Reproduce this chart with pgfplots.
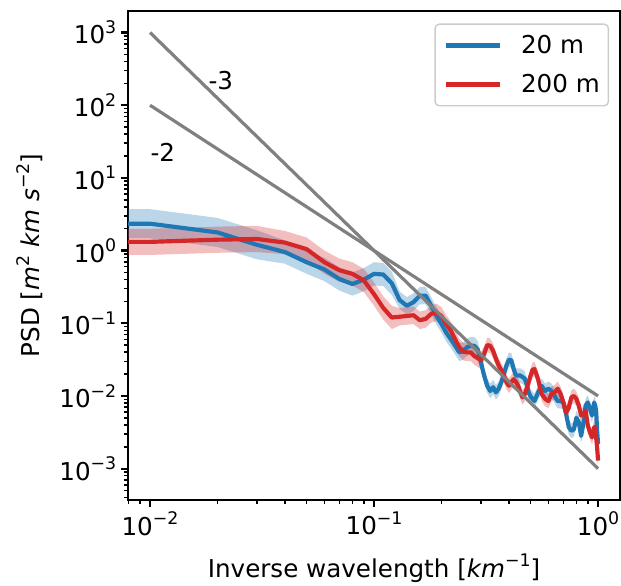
\documentclass[border=0pt]{standalone}
\usepackage{fontspec}
\setmainfont{DejaVu Sans}
\usepackage{pgfplots}
\pgfplotsset{compat=1.18}
\usepgfplotslibrary{fillbetween}
\usepackage{pgfplotstable}
\definecolor{tabblue}{HTML}{1F77B4}
\definecolor{tabred}{HTML}{D62728}
\definecolor{lgray}{HTML}{CCCCCC}
\newcommand\sups[1]{\raisebox{0.42em}{\fontsize{12.5}{13}\selectfont #1}}
\newcommand\fs{\fontsize{17.7}{21}\selectfont}

\pgfplotstableread{
k y lo hi
0.006 2.344 1.479 3.715
0.01 2.344 1.479 3.715
0.02 1.778 1.122 2.818
0.03 1.202 0.7586 1.905
0.04 0.955 0.661 1.380
0.05 0.692 0.479 1.000
0.06 0.550 0.380 0.794
0.07 0.407 0.282 0.589
0.08 0.347 0.240 0.501
0.09 0.398 0.275 0.575
0.10 0.479 0.331 0.692
0.11 0.468 0.324 0.676
0.12 0.355 0.245 0.513
0.13 0.209 0.1585 0.275
0.14 0.174 0.132 0.229
0.15 0.195 0.148 0.257
0.16 0.240 0.182 0.316
0.17 0.240 0.182 0.316
0.18 0.174 0.132 0.229
0.19 0.126 0.0955 0.166
0.20 0.0977 0.0741 0.129
0.21 0.0741 0.0562 0.0977
0.22 0.0603 0.0457 0.0794
0.23 0.0490 0.0372 0.0646
0.24 0.0398 0.0302 0.0525
0.25 0.0417 0.0316 0.0550
0.26 0.0468 0.0355 0.0617
0.27 0.0490 0.0372 0.0646
0.28 0.0490 0.0372 0.0646
0.29 0.0437 0.0331 0.0575
0.30 0.0288 0.0219 0.0380
0.31 0.0191 0.0151 0.0240
0.32 0.0138 0.0110 0.0174
0.33 0.0117 0.00933 0.0148
0.34 0.0132 0.0105 0.0166
0.35 0.0112 0.00891 0.0141
0.36 0.0126 0.0100 0.0158
0.37 0.0155 0.0123 0.0195
0.38 0.0200 0.0158 0.0251
0.39 0.0263 0.0209 0.0331
0.40 0.0316 0.0251 0.0398
0.41 0.0309 0.0245 0.0389
0.42 0.0234 0.0186 0.0295
0.43 0.0191 0.0151 0.0240
0.44 0.0191 0.0151 0.0240
0.45 0.0191 0.0151 0.0240
0.46 0.0182 0.0145 0.0229
0.47 0.0174 0.0138 0.0219
0.48 0.0145 0.0115 0.0182
0.49 0.0112 0.00891 0.0141
0.50 0.00977 0.00776 0.0123
0.52 0.00851 0.00676 0.0107
0.54 0.0112 0.00891 0.0141
0.56 0.0138 0.0110 0.0174
0.58 0.0117 0.00933 0.0148
0.60 0.0126 0.0100 0.0158
0.62 0.0117 0.00933 0.0148
0.64 0.0100 0.00794 0.0126
0.66 0.00851 0.00676 0.0107
0.68 0.00851 0.00676 0.0107
0.70 0.00813 0.00646 0.0102
0.72 0.00562 0.00447 0.00708
0.74 0.00372 0.00295 0.00468
0.76 0.00331 0.00263 0.00417
0.78 0.00347 0.00275 0.00437
0.80 0.00501 0.00398 0.00631
0.82 0.00437 0.00347 0.00550
0.84 0.00282 0.00224 0.00355
0.86 0.00417 0.00331 0.00525
0.88 0.00741 0.00589 0.00933
0.90 0.00813 0.00646 0.0102
0.92 0.00661 0.00525 0.00832
0.94 0.00537 0.00427 0.00676
0.96 0.00813 0.00646 0.0102
0.97 0.00741 0.00589 0.00933
0.98 0.00631 0.00501 0.00794
0.99 0.00331 0.00263 0.00417
1.00 0.00219 0.00174 0.00275
}\bluetab

\pgfplotstableread{
k y lo hi
0.006 1.318 0.871 1.995
0.01 1.318 0.871 1.995
0.02 1.413 0.933 2.138
0.03 1.445 0.955 2.188
0.04 1.288 0.891 1.862
0.05 1.047 0.724 1.514
0.06 0.692 0.479 1.000
0.07 0.537 0.372 0.776
0.08 0.479 0.331 0.692
0.09 0.389 0.269 0.562
0.10 0.251 0.174 0.363
0.11 0.162 0.112 0.234
0.12 0.120 0.0832 0.174
0.13 0.123 0.0933 0.162
0.14 0.126 0.0955 0.166
0.15 0.129 0.0977 0.170
0.16 0.110 0.0832 0.145
0.17 0.115 0.0871 0.151
0.18 0.135 0.102 0.178
0.19 0.141 0.107 0.186
0.20 0.126 0.0955 0.166
0.21 0.0977 0.0741 0.129
0.22 0.0794 0.0603 0.105
0.23 0.0603 0.0457 0.0794
0.24 0.0468 0.0355 0.0617
0.25 0.0407 0.0309 0.0537
0.26 0.0398 0.0302 0.0525
0.27 0.0398 0.0302 0.0525
0.28 0.0355 0.0269 0.0468
0.29 0.0331 0.0251 0.0437
0.30 0.0309 0.0234 0.0407
0.31 0.0380 0.0302 0.0479
0.32 0.0501 0.0398 0.0631
0.33 0.0490 0.0389 0.0617
0.34 0.0417 0.0331 0.0525
0.35 0.0324 0.0257 0.0407
0.36 0.0263 0.0209 0.0331
0.37 0.0224 0.0178 0.0282
0.38 0.0191 0.0151 0.0240
0.39 0.0155 0.0123 0.0195
0.40 0.0138 0.0110 0.0174
0.41 0.0155 0.0123 0.0195
0.42 0.0170 0.0135 0.0214
0.43 0.0155 0.0123 0.0195
0.44 0.0138 0.0110 0.0174
0.45 0.0112 0.00891 0.0141
0.46 0.00955 0.00759 0.0120
0.47 0.0105 0.00832 0.0132
0.48 0.0126 0.0100 0.0158
0.49 0.0155 0.0123 0.0195
0.50 0.0191 0.0151 0.0240
0.51 0.0229 0.0182 0.0288
0.52 0.0234 0.0186 0.0295
0.53 0.0200 0.0158 0.0251
0.54 0.0170 0.0135 0.0214
0.55 0.0132 0.0105 0.0166
0.56 0.0107 0.00851 0.0135
0.58 0.00912 0.00724 0.0115
0.60 0.00851 0.00676 0.0107
0.62 0.0107 0.00851 0.0135
0.64 0.0112 0.00891 0.0141
0.66 0.0126 0.0100 0.0158
0.68 0.0107 0.00851 0.0135
0.70 0.00813 0.00646 0.0102
0.72 0.00589 0.00468 0.00741
0.74 0.00692 0.00550 0.00871
0.76 0.00955 0.00759 0.0120
0.78 0.0100 0.00794 0.0126
0.80 0.00912 0.00724 0.0115
0.82 0.00741 0.00589 0.00933
0.84 0.00537 0.00427 0.00676
0.86 0.00562 0.00447 0.00708
0.88 0.00631 0.00501 0.00794
0.90 0.00389 0.00309 0.00490
0.92 0.00316 0.00251 0.00398
0.94 0.00269 0.00214 0.00339
0.96 0.00372 0.00295 0.00468
0.97 0.00372 0.00295 0.00468
0.98 0.00269 0.00214 0.00339
0.99 0.00195 0.00155 0.00245
1.00 0.00129 0.00102 0.00162
}\redtab

\begin{document}
\begin{tikzpicture}
\begin{axis}[
  at={(0pt,0pt)}, anchor=south west,
  xmode=log, ymode=log,
  scale only axis, width=354.2pt, height=352.1pt,
  xmin=0.00798, xmax=1.253, ymin=3.7e-4, ymax=1982,
  xtick={0.01,0.1,1},
  xticklabels={10\sups{−2},10\sups{−1},10\sups{0}},
  ytick={0.001,0.01,0.1,1,10,100,1000},
  yticklabels={10\sups{−3},10\sups{−2},10\sups{−1},10\sups{0},10\sups{1},10\sups{2},10\sups{3}},
  minor xtick={0.008,0.009,0.02,0.03,0.04,0.05,0.06,0.07,0.08,0.09,0.2,0.3,0.4,0.5,0.6,0.7,0.8,0.9},
  minor ytick={0.0004,0.0005,0.0006,0.0007,0.0008,0.0009,0.002,0.003,0.004,0.005,0.006,0.007,0.008,0.009,0.02,0.03,0.04,0.05,0.06,0.07,0.08,0.09,0.2,0.3,0.4,0.5,0.6,0.7,0.8,0.9,2,3,4,5,6,7,8,9,20,30,40,50,60,70,80,90,200,300,400,500,600,700,800,900},
  tick align=outside, tick pos=left,
  major tick length=5pt, minor tick length=3pt,
  major tick style={line width=1.6pt, black},
  minor tick style={line width=1.1pt, black},
  axis line style={line width=1.8pt},
  ticklabel style={font=\fs},
  xlabel={Inverse wavelength [\textit{km}\sups{−1}]},
  ylabel={PSD [\textit{m}\sups{2} \textit{km} \textit{s}\sups{−2}]},
  label style={font=\fs},
  xlabel style={at={(axis description cs:0.5,-0.1394)}, anchor=center},
  ylabel style={at={(axis description cs:-0.1993,0.5)}, anchor=center},
  legend style={at={(1,1)}, anchor=north east, xshift=-7.9pt, yshift=-9pt,
    draw=lgray, line width=1pt, rounded corners=3pt, font=\fs,
    inner xsep=6.2pt, inner ysep=8pt, row sep=13.5pt,
    nodes={inner sep=0pt},
    /tikz/every odd column/.append style={column sep=13.7pt}},
  legend cell align=left,
  legend image code/.code={\draw[#1, line width=3pt] (0pt,0pt) -- (39pt,0pt);},
]
\addplot[name path=bhi, draw=none, forget plot] table[x=k,y=hi]{\bluetab};
\addplot[name path=blo, draw=none, forget plot] table[x=k,y=lo]{\bluetab};
\addplot[fill=tabblue, fill opacity=0.3, draw=none, forget plot] fill between[of=bhi and blo];
\addplot[name path=rhi, draw=none, forget plot] table[x=k,y=hi]{\redtab};
\addplot[name path=rlo, draw=none, forget plot] table[x=k,y=lo]{\redtab};
\addplot[fill=tabred, fill opacity=0.3, draw=none, forget plot] fill between[of=rhi and rlo];
\addplot[tabblue, line width=3pt, line join=round] table[x=k,y=y]{\bluetab};
\addlegendentry{20 m}
\addplot[tabred, line width=3pt, line join=round] table[x=k,y=y]{\redtab};
\addlegendentry{200 m}
\addplot[gray, line width=2.3pt, forget plot] coordinates {(0.01,1000) (1,0.001)};
\addplot[gray, line width=2.3pt, forget plot] coordinates {(0.01,100) (1,0.01)};
\node[font=\fs] at (axis cs:0.0207,218) {-3};
\node[font=\fs] at (axis cs:0.0114,22.8) {-2};
\end{axis}
\pgfresetboundingbox
\path[use as bounding box] (-92.2pt,-61.9pt) rectangle (354.9pt,360.0pt);
\end{tikzpicture}
\end{document}
